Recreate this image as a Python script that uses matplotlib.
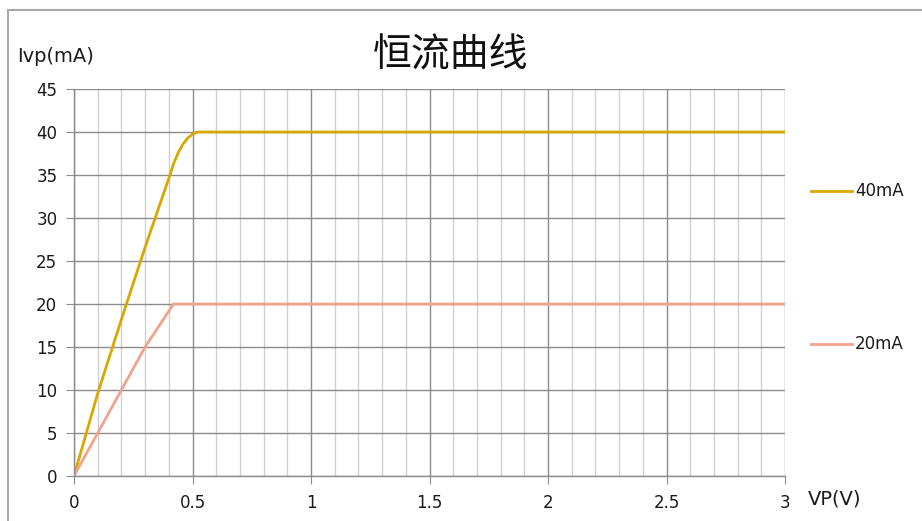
import matplotlib
matplotlib.use('Agg')
import matplotlib.pyplot as plt
import matplotlib.ticker as ticker
from matplotlib.patches import Rectangle

plt.rcParams['font.family'] = ['DejaVu Sans', 'Noto Sans CJK SC']

TITLE = '恒流曲线'
Y_LABEL = 'Ivp(mA)'
X_LABEL = 'VP(V)'

# 40mA curve
vp_40 = [0.0, 0.1, 0.2, 0.3, 0.4, 0.42, 0.44, 0.46, 0.48, 0.5, 0.52, 0.6, 1.0, 2.0, 3.0]
ivp_40 = [0.0, 9.6, 18.2, 26.6, 34.6, 36.3, 37.6, 38.6, 39.3, 39.75, 40.0, 40.0, 40.0, 40.0, 40.0]

# 20mA curve
vp_20 = [0.0, 0.1, 0.2, 0.3, 0.42, 1.0, 2.0, 3.0]
ivp_20 = [0.0, 5.0, 10.0, 15.0, 20.0, 20.0, 20.0, 20.0]

SERIES_LABELS = ['40mA', '20mA']
COLOR_40 = '#D9A800'
COLOR_20 = '#F2A38C'
TEXT_COLOR = '#1a1a1a'

W, H = 922, 521
fig = plt.figure(figsize=(W / 100, H / 100), dpi=100)

# outer frame of the chart area
fig.patches.append(Rectangle((8 / W, -0.01), 1.0, 1 - 10 / H + 0.01, transform=fig.transFigure,
                             fill=False, edgecolor='#a8a8a8', linewidth=1.5))

ax = fig.add_axes([74 / W, 1 - 476 / H, (785 - 74) / W, (476 - 89) / H])

ax.set_xlim(0, 3)
ax.set_ylim(0, 45)

# minor vertical grid every 0.1, major every 0.5
ax.xaxis.set_major_locator(ticker.MultipleLocator(0.5))
ax.xaxis.set_minor_locator(ticker.MultipleLocator(0.1))
ax.yaxis.set_major_locator(ticker.MultipleLocator(5))
ax.grid(which='minor', axis='x', color='#d0d0d0', linewidth=1.0)
ax.grid(which='major', axis='x', color='#8c8c8c', linewidth=1.0)
ax.grid(which='major', axis='y', color='#8c8c8c', linewidth=1.0)
ax.set_axisbelow(True)

ax.xaxis.set_major_formatter(ticker.FuncFormatter(lambda v, p: ('%g' % v)))
ax.tick_params(axis='x', which='major', length=6, color='#8c8c8c', labelsize=12,
               labelcolor=TEXT_COLOR, pad=7)
ax.tick_params(axis='x', which='minor', length=0)
ax.tick_params(axis='y', length=6, color='#8c8c8c', labelsize=12, labelcolor=TEXT_COLOR, pad=6)

for side in ('top', 'right'):
    ax.spines[side].set_visible(False)
for side in ('left', 'bottom'):
    ax.spines[side].set_color('#8c8c8c')
    ax.spines[side].set_linewidth(1.0)

l40, = ax.plot(vp_40, ivp_40, color=COLOR_40, linewidth=2.0, solid_capstyle='round')
l20, = ax.plot(vp_20, ivp_20, color=COLOR_20, linewidth=2.0, solid_capstyle='round')

# legend entries on the right, one beside each curve level
for line, label, ypix in ((l40, SERIES_LABELS[0], 191), (l20, SERIES_LABELS[1], 344)):
    y = 1 - ypix / H
    fig.add_artist(plt.Line2D([811 / W, 852 / W], [y, y], transform=fig.transFigure,
                              color=line.get_color(), linewidth=2.0))
    fig.text(855 / W, y, label, fontsize=12, va='center', ha='left', color=TEXT_COLOR)

fig.text(451 / W, 1 - 55 / H, TITLE, fontsize=28, ha='center', va='center', color='#111111')
fig.text(17 / W, 1 - 56 / H, Y_LABEL, fontsize=14, ha='left', va='center', color=TEXT_COLOR)
fig.text(808 / W, 1 - 499 / H, X_LABEL, fontsize=14, ha='left', va='center', color=TEXT_COLOR)

fig.savefig('out.png', dpi=100)
